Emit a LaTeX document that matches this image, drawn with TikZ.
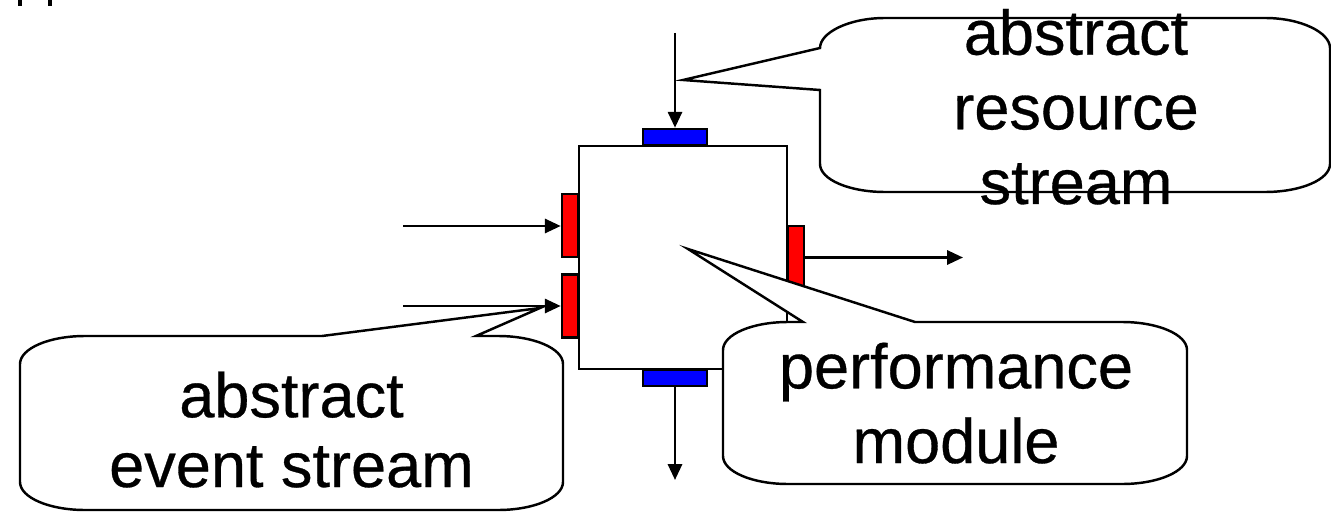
\documentclass[tikz,border=0pt]{standalone}
\usepackage{fontspec}
\setmainfont{Liberation Sans}
\newfontfamily\bubblefont{Liberation Sans}[FakeBold=0.5]
\usepackage{tikz}
\usetikzlibrary{arrows.meta}

\tikzset{
  box/.style={draw,line width=1.5pt,fill=white,minimum width=4.16cm,minimum height=4.46cm,inner sep=0pt},
  rport/.style={draw,line width=1.3pt,fill=red,minimum width=0.32cm,minimum height=1.26cm,inner sep=0pt},
  bport/.style={draw,line width=1.3pt,fill=blue,minimum width=1.28cm,minimum height=0.32cm,inner sep=0pt},
  flow/.style={->,line width=1.5pt},
  bubble/.style={draw,line width=1.4pt,fill=white,line join=miter},
  bubbletext/.style={align=center,inner sep=0pt,font=\bubblefont\fontsize{35.9}{42.5}\selectfont}
}

\begin{document}
\begin{tikzpicture}[x=0.02cm,y=-0.02cm,>={Triangle[length=9pt,width=8pt]}]
  \useasboundingbox (0,0) rectangle (1331,513);
  % bits of a line above
  \fill (18,0) rectangle (22,6);
  \fill (48,0) rectangle (52,6);

  % the module and its ports
  \node[box] (pm) at (683,257.5) {};
  \node[bport,anchor=south] (rin) at (675,146) {};
  \node[bport,anchor=north] (rout) at (675,369) {};
  \node[rport,anchor=east] (inA) at (579,225.5) {};
  \node[rport,anchor=east] (inB) at (579,306) {};
  \node[rport,anchor=west] (outA) at (787,257.5) {};

  % streams in and out
  \coordinate (resin) at (675,33);
  \coordinate (resout) at (675,480);
  \coordinate (evA) at (403,226);
  \coordinate (evB) at (403,306);
  \coordinate (evout) at (963,257.5);
  \draw[flow] (resin) -- (rin.north);
  \draw[flow] (rout.south) -- (resout);
  \draw[flow] (evA) -- (inA.west |- evA);
  \draw[flow] (evB) -- (inB.west);
  \draw[flow] (outA.east) -- (evout);

  % callouts
  \draw[bubble] (820,48) -- (683,80) -- (820,90) -- (820,164)
    .. controls (820,179.5) and (849,192) .. (885,192) -- (1265,192)
    .. controls (1301,192) and (1330,179.5) .. (1330,164) -- (1330,48)
    .. controls (1330,32.5) and (1301,18) .. (1265,18) -- (885,18)
    .. controls (849,18) and (820,32.5) .. (820,48) -- cycle;
  \draw[bubble] (322,336) -- (540,308) -- (476,336) -- (498,336)
    .. controls (534,336) and (563,348.5) .. (563,364) -- (563,482)
    .. controls (563,497.5) and (534,510) .. (498,510) -- (85,510)
    .. controls (49,510) and (20,497.5) .. (20,482) -- (20,364)
    .. controls (20,348.5) and (49,336) .. (85,336) -- cycle;
  \draw[bubble] (803,322) -- (688,249) -- (915,322) -- (1122,322)
    .. controls (1158,322) and (1187,334.5) .. (1187,350) -- (1187,456)
    .. controls (1187,471.5) and (1158,484) .. (1122,484) -- (788,484)
    .. controls (752,484) and (723,471.5) .. (723,456) -- (723,350)
    .. controls (723,334.5) and (752,322) .. (788,322) -- cycle;

  \node[bubbletext,anchor=base] (restext) at (1076,204) {abstract\\resource\\stream};
  \node[bubbletext,anchor=base,font=\bubblefont\fontsize{35.9}{39.7}\selectfont] (evtext) at (291.5,487) {abstract\\event stream};
  \node[bubbletext,anchor=base] (pmtext) at (956,463) {performance\\module};
\end{tikzpicture}
\end{document}
